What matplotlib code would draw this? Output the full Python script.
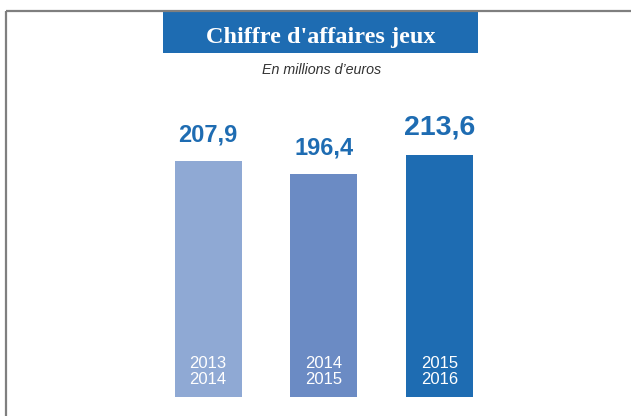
import matplotlib
matplotlib.use("Agg")
import matplotlib.pyplot as plt
from matplotlib.patches import Rectangle
from matplotlib.lines import Line2D
from matplotlib import font_manager

# ---- data ----
title = "Chiffre d'affaires jeux"
subtitle = "En millions d\u2019euros"
periods = ["2013\n2014", "2014\n2015", "2015\n2016"]
values = [207.9, 196.4, 213.6]
value_labels = ["207,9", "196,4", "213,6"]

# ---- styles ----
bar_colors = ["#8FA9D4", "#6B8BC4", "#1E6CB2"]
label_sizes = [17, 17, 20.5]
blue = "#1E6CB2"

names = {f.name for f in font_manager.fontManager.ttflist}
narrow = [n for n in ["Liberation Sans Narrow", "Liberation Sans"] if n in names] + ["DejaVu Sans"]
serif = [n for n in ["Liberation Serif", "DejaVu Serif"] if n in names]

W, H = 631, 416
fig = plt.figure(figsize=(W / 100, H / 100), dpi=100)
fig.patch.set_facecolor("white")

# frame lines
fig.add_artist(Line2D([6 / W, 1], [1 - 11 / H, 1 - 11 / H], color="#7f7f7f", lw=1.6,
                      transform=fig.transFigure, solid_capstyle="butt"))
fig.add_artist(Line2D([6 / W, 6 / W], [0, 1 - 11 / H], color="#7f7f7f", lw=1.6,
                      transform=fig.transFigure, solid_capstyle="butt"))

# title box
fig.add_artist(Rectangle((163 / W, 1 - 53 / H), 315 / W, 41 / H, facecolor=blue,
                         edgecolor="none", transform=fig.transFigure))
fig.text(320.5 / W, 1 - 43 / H, title, color="white", fontsize=17.5, fontweight="bold",
         family=serif, ha="center", va="baseline")
fig.text(321.5 / W, 1 - 74 / H, subtitle, color="#333333", fontsize=10.3, fontstyle="italic",
         family=narrow, ha="center", va="baseline")

# axes: y=0 at 397px from top, 1.134 px per unit
px_per_unit = 1.134
ymax = 250
ax_h = ymax * px_per_unit
ax_bottom = H - 397
spacing = 115.75
xlo, xhi = -1.5, 3.5
ax_left = 208 - 1.5 * spacing
ax_w = (xhi - xlo) * spacing
ax = fig.add_axes([ax_left / W, ax_bottom / H, ax_w / W, ax_h / H])
ax.set_xlim(xlo, xhi)
ax.set_ylim(0, ymax)
ax.axis("off")

x = list(range(len(values)))
bars = ax.bar(x, values, width=67 / spacing, color=bar_colors, edgecolor="none")

for xi, v, lab, fs in zip(x, values, value_labels, label_sizes):
    ax.annotate(lab, (xi, v), xytext=(0, 14.5), textcoords="offset points",
                ha="center", va="baseline", color=blue, fontsize=fs,
                fontweight="bold", family=narrow)

for xi, p in zip(x, periods):
    ax.annotate(p, (xi, 0), xytext=(0, 9.5), textcoords="offset points",
                ha="center", va="baseline", color="white", fontsize=12,
                family=narrow, linespacing=1.05, multialignment="center")

fig.savefig("out.png", dpi=100, facecolor="white")
